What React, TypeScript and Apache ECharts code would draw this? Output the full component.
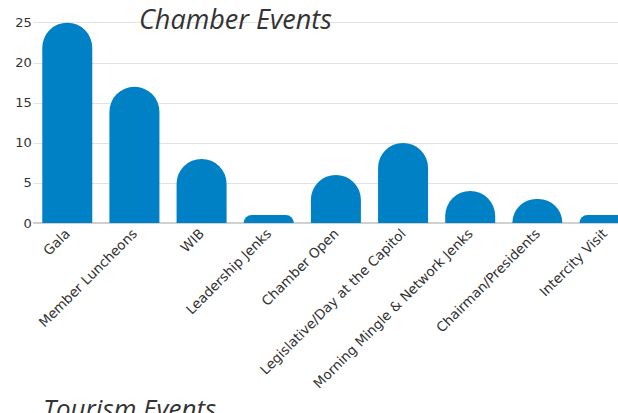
import React, { useEffect, useRef } from "react";
import * as echarts from "echarts";

const categories = [
  "Gala",
  "Member Luncheons",
  "WIB",
  "Leadership Jenks",
  "Chamber Open",
  "Legislative/Day at the Capitol",
  "Morning Mingle & Network Jenks",
  "Chairman/Presidents",
  "Intercity Visit",
];
const eventCounts = [25, 17, 8, 1, 6, 10, 4, 3, 1];
const yTicks = { min: 0, max: 25, interval: 5 };
const titleText = "Chamber Events";
const nextTitleText = "Tourism Events";

const TITLE_FONT = "'Open Sans', 'Noto Sans', sans-serif";
const LABEL_FONT = "'DejaVu Sans', 'Open Sans', sans-serif";

export default function App() {
  const ref = useRef<HTMLDivElement>(null);
  useEffect(() => {
    if (!ref.current) return;
    const chart = echarts.init(ref.current, undefined, { renderer: "svg" });
    chart.setOption({
      animation: false,
      backgroundColor: "#ffffff",
      title: [
        {
          text: titleText,
          left: 134,
          top: 0,
          textStyle: {
            fontFamily: TITLE_FONT,
            fontStyle: "italic",
            fontWeight: "normal",
            fontSize: 27,
            color: "#333333",
          },
        },
        {
          text: nextTitleText,
          left: 38,
          top: 390,
          textStyle: {
            fontFamily: TITLE_FONT,
            fontStyle: "italic",
            fontWeight: "normal",
            fontSize: 26,
            color: "#333333",
          },
        },
      ],
      grid: {
        left: 33.7,
        top: 22.7,
        width: 604.4,
        height: 200.3,
        containLabel: false,
        outerBoundsMode: "none",
      },
      xAxis: {
        type: "category",
        data: categories,
        axisTick: { show: false },
        axisLine: { show: true, lineStyle: { color: "#d0d0d0", width: 2 } },
        axisLabel: {
          interval: 0,
          rotate: 45,
          margin: 8,
          fontFamily: LABEL_FONT,
          fontSize: 13.5,
          color: "#333333",
        },
      },
      yAxis: {
        type: "value",
        min: yTicks.min,
        max: yTicks.max,
        interval: yTicks.interval,
        axisLine: { show: false },
        axisTick: { show: false },
        splitLine: { lineStyle: { color: "#e2e2e2", width: 1 } },
        axisLabel: {
          margin: 2,
          fontFamily: LABEL_FONT,
          fontSize: 13,
          color: "#333333",
        },
      },
      series: [
        {
          type: "bar",
          data: eventCounts,
          barWidth: 50,
          itemStyle: { color: "#0080C5", borderRadius: [25, 25, 0, 0] },
        },
      ],
    });
    return () => chart.dispose();
  }, []);
  return (
    <div
      ref={ref}
      style={{ position: "fixed", left: 0, top: 0, width: 618, height: 413 }}
    />
  );
}
